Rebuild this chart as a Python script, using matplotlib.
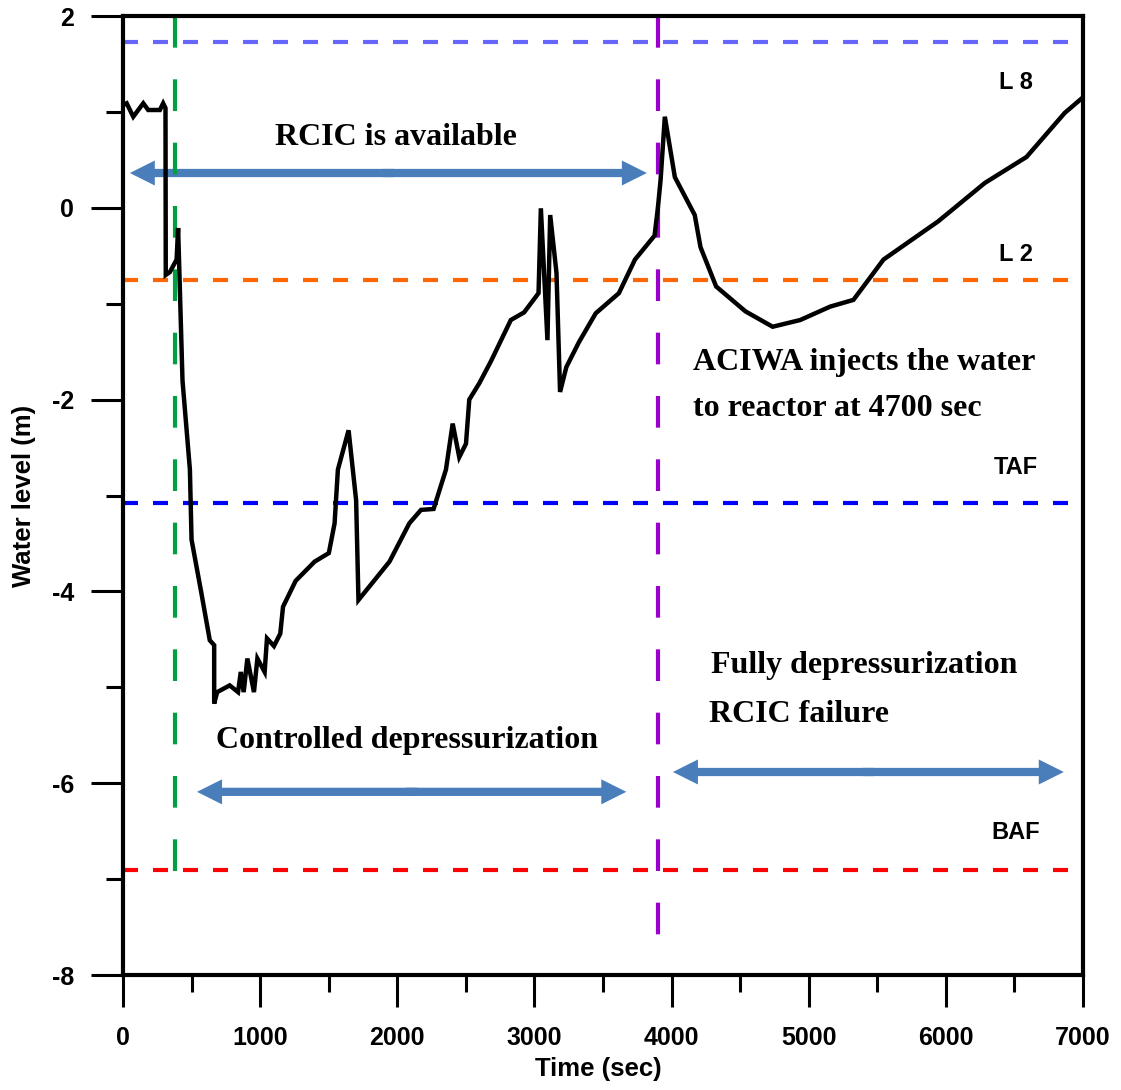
import matplotlib.pyplot as plt
from matplotlib.patches import FancyArrowPatch
from matplotlib.ticker import MultipleLocator

# --- Water level history (time in s, level in m) ---
time_s = [0, 27, 75, 148, 184, 269, 293, 310, 312, 342, 391, 402,
          434, 488, 500, 572, 633, 665, 665, 687, 778, 839, 859, 880,
          907, 955, 980, 1033, 1050, 1101, 1147, 1167, 1259, 1397, 1501,
          1543, 1567, 1645, 1700, 1717, 1943, 2088, 2173, 2265, 2355,
          2404, 2452, 2501, 2525, 2598, 2683, 2828, 2925, 3030, 3047,
          3095, 3115, 3161, 3187, 3233, 3325, 3447, 3616, 3733, 3876,
          3900, 3920, 3951, 4024, 4169, 4211, 4325, 4539, 4737, 4938,
          5157, 5326, 5436, 5545, 5945, 6285, 6588, 6867, 6990]
level_m = [1.07, 1.09, 0.95, 1.09, 1.02, 1.02, 1.09, 1.04, -0.70, -0.67, -0.54, -0.21,
           -1.80, -2.73, -3.46, -4.02, -4.51, -4.56, -5.17, -5.05, -4.98, -5.05, -4.84, -5.05,
           -4.70, -5.05, -4.70, -4.84, -4.49, -4.57, -4.44, -4.16, -3.89, -3.69, -3.60,
           -3.29, -2.73, -2.32, -3.05, -4.09, -3.69, -3.29, -3.15, -3.14, -2.73,
           -2.25, -2.60, -2.46, -2.00, -1.83, -1.60, -1.17, -1.09, -0.89, -0.005,
           -1.38, -0.075, -0.68, -1.92, -1.66, -1.40, -1.10, -0.89, -0.54, -0.29,
           -0.005, 0.29, 0.95, 0.32, -0.075, -0.41, -0.82, -1.08, -1.24, -1.17,
           -1.03, -0.96, -0.75, -0.54, -0.14, 0.26, 0.53, 0.99, 1.14]

# reference levels
ref_names = ['L 8', 'L 2', 'TAF', 'BAF']
ref_levels = [1.73, -0.753, -3.08, -6.905]
ref_colors = ['#6666FF', '#FF6600', '#0000FF', '#FF0000']
ref_label_y = [1.31, -0.49, -2.71, -6.51]

# event times
event_times = [380, 3900]
event_bottoms = [-7.0, -7.67]
event_colors = ['#00A040', '#9900CC']

# double arrows: (start, end, level)
spans = [(50, 3820, 0.363), (540, 3670, -6.09), (4010, 6860, -5.883)]

plt.rcParams['font.family'] = ['Liberation Sans', 'DejaVu Sans']
plt.rcParams['font.weight'] = 'bold'
plt.rcParams['axes.unicode_minus'] = False

fig = plt.figure(figsize=(11.21, 10.9), dpi=100)
ax = fig.add_axes([0.1097, 0.1055, 0.8564, 0.8798])

for lvl, c in zip(ref_levels, ref_colors):
    ax.plot([0, 6900], [lvl, lvl], color=c, lw=3, ls=(0, (3.6, 3.6)))

for t, yb, c in zip(event_times, event_bottoms, event_colors):
    ax.plot([t, t], [2, yb], color=c, lw=3, ls=(0, (7.6, 7.6)), clip_on=False)

ax.plot(time_s, level_m, color='black', lw=3.2, solid_joinstyle='miter')

# double-headed arrows built from two single heads overlapping at the middle
for x0, x1, y in spans:
    xm = (x0 + x1) / 2
    for xs, xe in ((xm + 40, x0), (xm - 40, x1)):
        ax.add_patch(FancyArrowPatch(
            (xs, y), (xe, y), mutation_scale=18, lw=0, color='#4A7EBB',
            arrowstyle='simple,head_length=1.0,head_width=1.0,tail_width=0.33',
            shrinkA=0, shrinkB=0))

serif = dict(family='Liberation Serif', fontsize=23, fontweight='bold')
ax.text(1987, 0.738, 'RCIC is available', ha='center', va='center', **serif)
ax.text(4155, -1.61, 'ACIWA injects the water', ha='left', va='center', **serif)
ax.text(4155, -2.09, 'to reactor at 4700 sec', ha='left', va='center', **serif)
ax.text(2074, -5.55, 'Controlled depressurization', ha='center', va='center', **serif)
ax.text(4285, -4.77, 'Fully depressurization', ha='left', va='center', **serif)
ax.text(4271, -5.28, 'RCIC failure', ha='left', va='center', **serif)

for name, ly in zip(ref_names, ref_label_y):
    ax.text(6512, ly, name, ha='center', va='center', fontsize=17, fontweight='bold')

ax.set_xlim(0, 7000)
ax.set_ylim(-8, 2)
ax.xaxis.set_major_locator(MultipleLocator(1000))
ax.xaxis.set_minor_locator(MultipleLocator(500))
ax.yaxis.set_major_locator(MultipleLocator(2))
ax.yaxis.set_minor_locator(MultipleLocator(1))
ax.tick_params(which='major', length=23, width=2.2, direction='out', labelsize=18)
ax.tick_params(which='minor', length=12, width=2.2, direction='out')
ax.tick_params(axis='x', which='major', pad=14)
ax.tick_params(axis='y', which='major', pad=12)
for s in ax.spines.values():
    s.set_linewidth(3)

ax.set_xlabel('Time (sec)', fontsize=18.5, fontweight='bold')
ax.set_ylabel('Water level (m)', fontsize=18.5, fontweight='bold')
ax.xaxis.set_label_coords(0.495, -0.085)
ax.yaxis.set_label_coords(-0.091, 0.5)

fig.savefig('out.png', dpi=100)
